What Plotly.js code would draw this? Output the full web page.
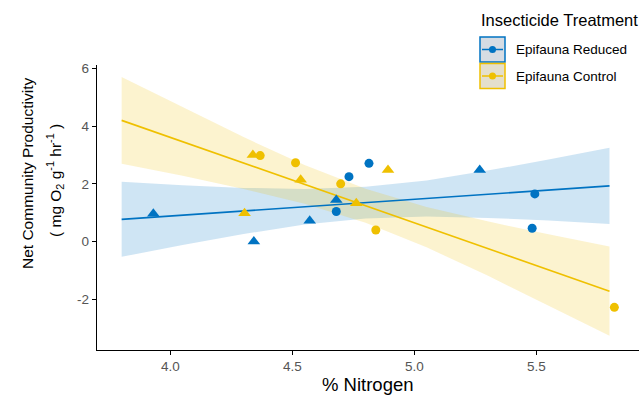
<!DOCTYPE html>
<html>
<head>
<meta charset="utf-8">
<script src="https://cdn.plot.ly/plotly-3.0.1.min.js"></script>
<style>
  html, body { margin: 0; padding: 0; background: #ffffff; }
  #chart { width: 644px; height: 399px; }
</style>
</head>
<body>
<div id="chart"></div>
<script>
// ---- data ----
const seriesNames = ['Epifauna Reduced', 'Epifauna Control'];

const reducedX = [3.930, 4.342, 4.571, 4.680, 4.680, 4.732, 4.814, 5.268, 5.494, 5.483];
const reducedY = [0.96, 0.00, 0.72, 1.44, 1.04, 2.25, 2.71, 2.48, 1.65, 0.46];
const reducedShape = ['triangle', 'triangle', 'triangle', 'triangle', 'circle', 'circle', 'circle', 'triangle', 'circle', 'circle'];

const controlX = [4.304, 4.338, 4.368, 4.513, 4.534, 4.698, 4.762, 4.892, 4.842, 5.820];
const controlY = [0.98, 3.00, 2.98, 2.73, 2.14, 2.00, 1.33, 2.48, 0.40, -2.28];
const controlShape = ['triangle', 'triangle', 'circle', 'circle', 'triangle', 'circle', 'triangle', 'triangle', 'circle', 'circle'];

// fitted lines and confidence ribbons (read at these x values)
const fitX = [3.8, 4.05, 4.3, 4.55, 4.8, 5.05, 5.3, 5.55, 5.8];
const reducedFit   = [0.77, 0.915, 1.06, 1.205, 1.35, 1.495, 1.64, 1.785, 1.93];
const reducedUpper = [2.07, 1.95, 1.86, 1.82, 1.90, 2.12, 2.46, 2.84, 3.25];
const reducedLower = [-0.53, -0.12, 0.26, 0.59, 0.80, 0.87, 0.82, 0.73, 0.61];
const controlFit   = [4.20, 3.46, 2.72, 1.98, 1.24, 0.50, -0.24, -0.98, -1.72];
const controlUpper = [5.70, 4.65, 3.62, 2.65, 1.83, 1.20, 0.70, 0.25, -0.17];
const controlLower = [2.70, 2.28, 1.82, 1.31, 0.65, -0.20, -1.18, -2.22, -3.27];

const xTickVals = [4.0, 4.5, 5.0, 5.5];
const xTickText = ['4.0', '4.5', '5.0', '5.5'];
const yTickVals = [-2, 0, 2, 4, 6];
const yTickText = ['-2', '0', '2', '4', '6'];

// ---- styling ----
const BLUE = '#0073C2';
const YELLOW = '#EFC000';
const BLUE_FILL = 'rgba(0,115,194,0.19)';
const YELLOW_FILL = 'rgba(239,192,0,0.19)';
const FONT = 'Arial, "Liberation Sans", sans-serif';

const symbolOf = s => (s === 'triangle' ? 'triangle-up' : 'circle');
const sizeOf = s => (s === 'triangle' ? 11 : 9);

function ribbon(upper, lower, fill) {
  return {
    x: fitX.concat(fitX.slice().reverse()),
    y: upper.concat(lower.slice().reverse()),
    type: 'scatter', mode: 'lines', fill: 'toself',
    fillcolor: fill, line: {width: 0}, hoverinfo: 'skip', showlegend: false
  };
}
function fitLine(y, color) {
  return {x: fitX, y: y, type: 'scatter', mode: 'lines',
          line: {color: color, width: 1.6}, showlegend: false, hoverinfo: 'skip'};
}
function points(x, y, shapes, color, name) {
  return {x: x, y: y, type: 'scatter', mode: 'markers', name: name,
          marker: {color: color, opacity: 1, symbol: shapes.map(symbolOf), size: shapes.map(sizeOf), line: {width: 0}},
          showlegend: false};
}

const traces = [
  ribbon(reducedUpper, reducedLower, BLUE_FILL),
  ribbon(controlUpper, controlLower, YELLOW_FILL),
  fitLine(reducedFit, BLUE),
  fitLine(controlFit, YELLOW),
  points(reducedX, reducedY, reducedShape, BLUE, seriesNames[0]),
  points(controlX, controlY, controlShape, YELLOW, seriesNames[1])
];

// ---- layout helpers (pixel -> paper) ----
const W = 644, H = 399, ML = 97, MR = 5, MT = 65, MB = 49;
const PW = W - ML - MR, PH = H - MT - MB;
const px = p => (p - ML) / PW;
const py = p => (H - MB - p) / PH;

const legendItems = [
  {name: seriesNames[0], color: BLUE, bg: '#d6dce3', top: 37},
  {name: seriesNames[1], color: YELLOW, bg: '#e4dfcc', top: 63.5}
];

const shapes = [];
const annotations = [];
legendItems.forEach(it => {
  const cy = it.top + 12.5;
  shapes.push({type: 'rect', xref: 'paper', yref: 'paper',
               x0: px(480), x1: px(505), y0: py(it.top + 25), y1: py(it.top),
               fillcolor: it.bg, line: {color: it.color, width: 1.5}});
  shapes.push({type: 'line', xref: 'paper', yref: 'paper',
               x0: px(482), x1: px(503), y0: py(cy), y1: py(cy),
               line: {color: it.color, width: 1.5}});
  shapes.push({type: 'circle', xref: 'paper', yref: 'paper',
               x0: px(489), x1: px(496), y0: py(cy + 3.5), y1: py(cy - 3.5),
               fillcolor: it.color, line: {color: it.color, width: 0}});
  annotations.push({xref: 'paper', yref: 'paper', x: px(514), y: py(cy),
                    xanchor: 'left', yanchor: 'middle', showarrow: false,
                    text: it.name, font: {family: FONT, size: 13.5, color: '#000'}});
});
annotations.push({xref: 'paper', yref: 'paper', x: px(479), y: py(20),
                  xanchor: 'left', yanchor: 'middle', showarrow: false,
                  text: 'Insecticide Treatment', font: {family: FONT, size: 16.5, color: '#000'}});
// axis titles
annotations.push({xref: 'paper', yref: 'paper', x: 0.5, y: py(384),
                  xanchor: 'center', yanchor: 'middle', showarrow: false,
                  text: '% Nitrogen', font: {family: FONT, size: 18.5, color: '#000'}});
annotations.push({xref: 'paper', yref: 'paper', x: px(27), y: py(174),
                  xanchor: 'center', yanchor: 'middle', showarrow: false, textangle: -90,
                  text: 'Net Community Productivity', font: {family: FONT, size: 15.5, color: '#000'}});
annotations.push({xref: 'paper', yref: 'paper', x: px(55), y: py(181),
                  xanchor: 'center', yanchor: 'middle', showarrow: false, textangle: -90,
                  text: '( mg O<sub>2</sub> g<sup>-1</sup> hr<sup>-1</sup> )', font: {family: FONT, size: 15.5, color: '#000'}});

const axisCommon = {
  showgrid: false, zeroline: false, showline: true, linecolor: '#000', linewidth: 1.2,
  ticks: 'outside', ticklen: 4, tickwidth: 1.2, tickcolor: '#000',
  tickfont: {family: FONT, size: 13.5, color: '#555'}, fixedrange: true
};

const layout = {
  width: W, height: H,
  margin: {l: ML, r: MR, t: MT, b: MB, pad: 0},
  paper_bgcolor: '#fff', plot_bgcolor: '#fff',
  showlegend: false,
  xaxis: Object.assign({}, axisCommon, {range: [3.699, 5.921], tickvals: xTickVals, ticktext: xTickText}),
  yaxis: Object.assign({}, axisCommon, {range: [-3.76, 6.12], tickvals: yTickVals, ticktext: yTickText}),
  shapes: shapes,
  annotations: annotations,
  font: {family: FONT}
};

Plotly.newPlot('chart', traces, layout, {displayModeBar: false, staticPlot: true});
</script>
</body>
</html>
